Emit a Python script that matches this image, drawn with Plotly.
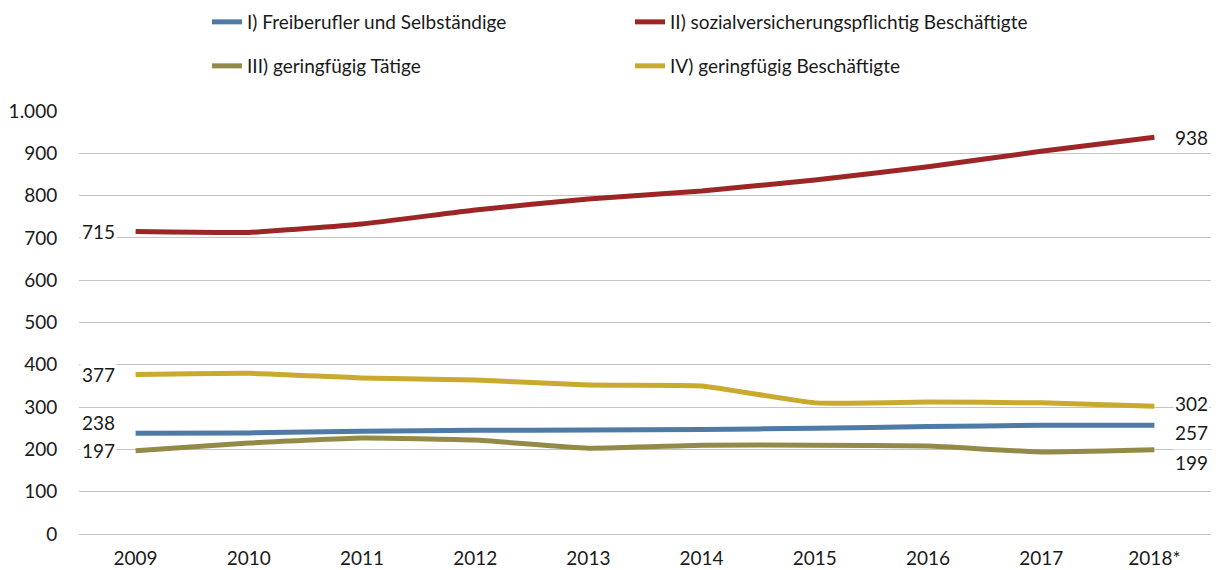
import plotly.graph_objects as go

# Jahre und Werte (in Tausend)
years = ["2009", "2010", "2011", "2012", "2013", "2014", "2015", "2016", "2017", "2018*"]
freiberufler = [238, 239, 243, 245, 246, 247, 250, 254, 257, 257]
sozialversichert = [715, 713, 733, 766, 792, 811, 837, 868, 905, 938]
geringfuegig_taetige = [197, 215, 227, 222, 203, 210, 210, 208, 194, 199]
geringfuegig_beschaeftigte = [377, 380, 369, 364, 352, 350, 310, 312, 310, 302]

names = [
    "I) Freiberufler und Selbständige",
    "II) sozialversicherungspflichtig Beschäftigte",
    "III) geringfügig Tätige",
    "IV) geringfügig Beschäftigte",
]
colors = ["#4E7AA6", "#9C2526", "#948A48", "#C9A92E"]
series = [freiberufler, sozialversichert, geringfuegig_taetige, geringfuegig_beschaeftigte]
legends = ["legend", "legend", "legend2", "legend2"]

# vertikale Verschiebung der Randbeschriftungen (links, rechts)
label_shift = [(11, -7), (0, 0), (0, -13), (0, 3)]

FONT = "Lato, Carlito, Calibri, sans-serif"

fig = go.Figure()
for name, vals, col, lg in zip(names, series, colors, legends):
    fig.add_trace(go.Scatter(
        x=years, y=vals, name=name, mode="lines",
        line=dict(color=col, width=5, shape="spline", smoothing=0.4),
        legend=lg,
    ))

# Kategorie-Index statt Text, weil "2009" sonst als Zahl gelesen wird
first, last = 0, len(years) - 1
for vals, (ls, rs) in zip(series, label_shift):
    fig.add_annotation(x=first, y=vals[0], text=str(vals[0]), showarrow=False,
                       xanchor="right", xshift=-19, yshift=ls, bgcolor="white",
                       font=dict(size=19, color="#1a1a1a", family=FONT))
    fig.add_annotation(x=last, y=vals[-1], text=str(vals[-1]), showarrow=False,
                       xanchor="left", xshift=19, yshift=rs, bgcolor="white",
                       font=dict(size=19, color="#1a1a1a", family=FONT))

legend_style = dict(orientation="h", xanchor="left", yanchor="middle", xref="container",
                    yref="container", entrywidth=378, entrywidthmode="pixels",
                    font=dict(size=19, color="#1a1a1a", family=FONT),
                    bgcolor="rgba(0,0,0,0)")

# die Seite hat 8px Rand, daher die Werte etwas kleiner
fig.update_layout(
    width=1216, height=562,
    margin=dict(l=71, r=13, t=103, b=36),
    plot_bgcolor="white", paper_bgcolor="white",
    separators=",.",
    font=dict(family=FONT, size=19, color="#1a1a1a"),
    legend=dict(x=199 / 1216, y=1 - 14 / 562, **legend_style),
    legend2=dict(x=199 / 1216, y=1 - 58 / 562, **legend_style),
    xaxis=dict(type="category", range=[-0.5, len(years) - 0.5], showgrid=False,
               showline=False, ticks="outside", ticklen=7, tickcolor="white",
               tickfont=dict(size=19), automargin=False),
    yaxis=dict(range=[0, 1000], dtick=100, tickformat=",d", showgrid=True,
               gridcolor="#C4C4C4", gridwidth=1, zeroline=True, zerolinecolor="#C4C4C4",
               zerolinewidth=1, ticks="outside", ticklen=17, tickcolor="white",
               tickfont=dict(size=19), automargin=False),
)

fig.write_html("out.html")
